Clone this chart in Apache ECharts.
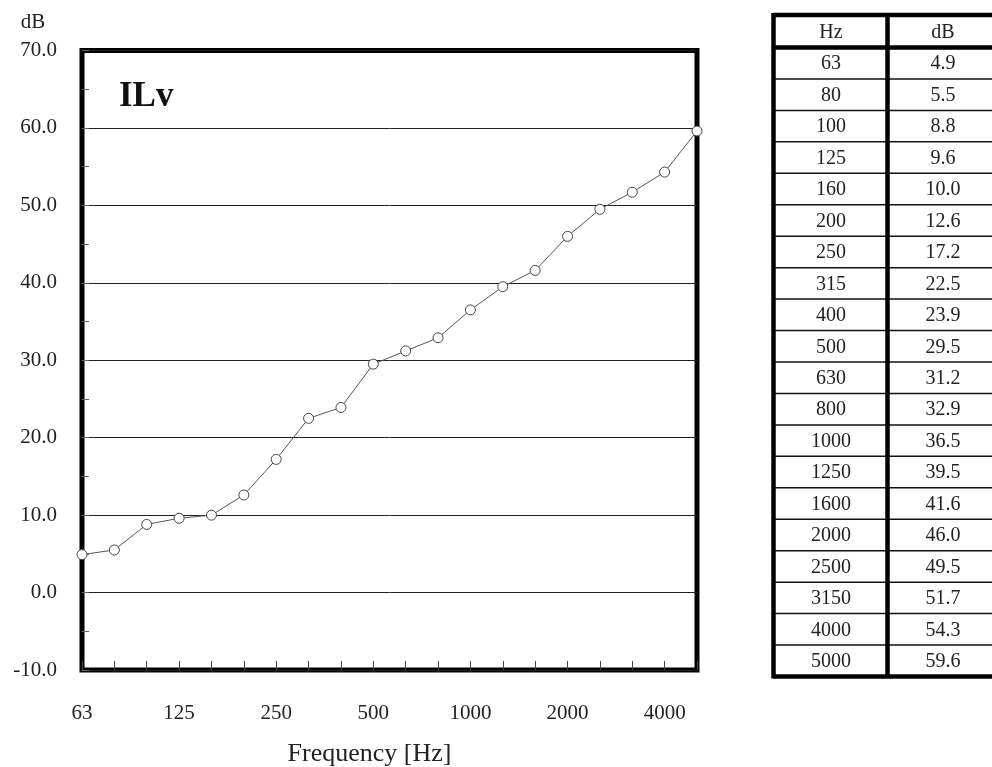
<!DOCTYPE html>
<html>
<head>
<meta charset="utf-8">
<script src="https://cdn.jsdelivr.net/npm/echarts@6/dist/echarts.min.js"></script>
<style>html,body{margin:0;padding:0;background:#fff}#c{width:992px;height:767px}</style>
</head>
<body>
<div id="c"></div>
<script>
var frequencies = ['63','80','100','125','160','200','250','315','400','500','630','800','1000','1250','1600','2000','2500','3150','4000','5000'];
var dbValues = [4.9,5.5,8.8,9.6,10.0,12.6,17.2,22.5,23.9,29.5,31.2,32.9,36.5,39.5,41.6,46.0,49.5,51.7,54.3,59.6];
var tableHeaders = ['Hz','dB'];
var chartLabel = 'ILv';
var yUnit = 'dB';
var xName = 'Frequency [Hz]';

var SERIF = '"Liberation Serif","DejaVu Serif",serif';
var chart = echarts.init(document.getElementById('c'));

// table built from arrays
var tb = { x0: 773.5, xSep: 887.5, x1: 1000, top: 15, headH: 32.5, rowH: 31.45 };
var colC = [831, 943];
var g = [];
var bottomY = tb.top + tb.headH + tb.rowH * frequencies.length;
g.push({ type: 'text', x: colC[0], y: tb.top + tb.headH / 2 + 1, style: { text: tableHeaders[0], font: '20px ' + SERIF, fill: '#222', align: 'center', verticalAlign: 'middle' } });
g.push({ type: 'text', x: colC[1], y: tb.top + tb.headH / 2 + 1, style: { text: tableHeaders[1], font: '20px ' + SERIF, fill: '#222', align: 'center', verticalAlign: 'middle' } });
for (var i = 0; i < frequencies.length; i++) {
  var yc = tb.top + tb.headH + tb.rowH * (i + 0.5) + 1;
  g.push({ type: 'text', x: colC[0], y: yc, style: { text: frequencies[i], font: '20px ' + SERIF, fill: '#222', align: 'center', verticalAlign: 'middle' } });
  g.push({ type: 'text', x: colC[1], y: yc, style: { text: dbValues[i].toFixed(1), font: '20px ' + SERIF, fill: '#222', align: 'center', verticalAlign: 'middle' } });
  if (i > 0) {
    var yl = tb.top + tb.headH + tb.rowH * i;
    g.push({ type: 'line', shape: { x1: tb.x0, y1: yl, x2: tb.x1, y2: yl }, style: { stroke: '#111', lineWidth: 1.5 } });
  }
}
[[tb.x0, tb.top, tb.x1, tb.top], [tb.x0, tb.top + tb.headH, tb.x1, tb.top + tb.headH], [tb.x0, bottomY, tb.x1, bottomY],
 [tb.x0, tb.top - 2, tb.x0, bottomY + 2], [tb.xSep, tb.top, tb.xSep, bottomY]].forEach(function (l) {
  g.push({ type: 'line', shape: { x1: l[0], y1: l[1], x2: l[2], y2: l[3] }, style: { stroke: '#000', lineWidth: 4.5 } });
});

g.push({ type: 'text', x: 33, y: 22, style: { text: yUnit, font: '21px ' + SERIF, fill: '#222', align: 'center', verticalAlign: 'middle' } });
g.push({ type: 'text', x: 119, y: 97, z: 10, style: { text: chartLabel, font: 'bold 35px ' + SERIF, fill: '#111', align: 'left', verticalAlign: 'middle' } });

chart.setOption({
  animation: false,
  grid: { left: 82, top: 50.5, width: 615, height: 619.5, show: true, borderColor: '#000', borderWidth: 5, backgroundColor: 'transparent', containLabel: false, outerBoundsMode: 'none' },
  xAxis: {
    type: 'category', data: frequencies, boundaryGap: false,
    axisLine: { show: false, onZero: false },
    axisTick: { show: true, inside: true, length: 9, interval: 0, lineStyle: { color: '#444', width: 1 } },
    axisLabel: { interval: 2, margin: 33, fontFamily: SERIF, fontSize: 21, color: '#222' },
    splitLine: { show: false },
    name: xName, nameLocation: 'middle', nameGap: 71,
    nameTextStyle: { fontFamily: SERIF, fontSize: 26, color: '#222', padding: [0, 40, 0, 0] }
  },
  yAxis: {
    type: 'value', min: -10, max: 70, interval: 10,
    axisLine: { show: false },
    axisTick: { show: true, inside: true, length: 7, lineStyle: { color: '#666' } },
    minorTick: { show: true, splitNumber: 2, length: 7, lineStyle: { color: '#666' } },
    axisLabel: { margin: 25, fontFamily: SERIF, fontSize: 21, color: '#222', formatter: function (v) { return v.toFixed(1); } },
    splitLine: { show: true, lineStyle: { color: '#222', width: 1 } }
  },
  series: [{
    type: 'line', data: dbValues, clip: false, z: 5,
    symbol: 'circle', symbolSize: 10,
    lineStyle: { color: '#555', width: 1 },
    itemStyle: { color: '#fff', borderColor: '#444', borderWidth: 1 }
  }],
  graphic: g
});
</script>
</body>
</html>
